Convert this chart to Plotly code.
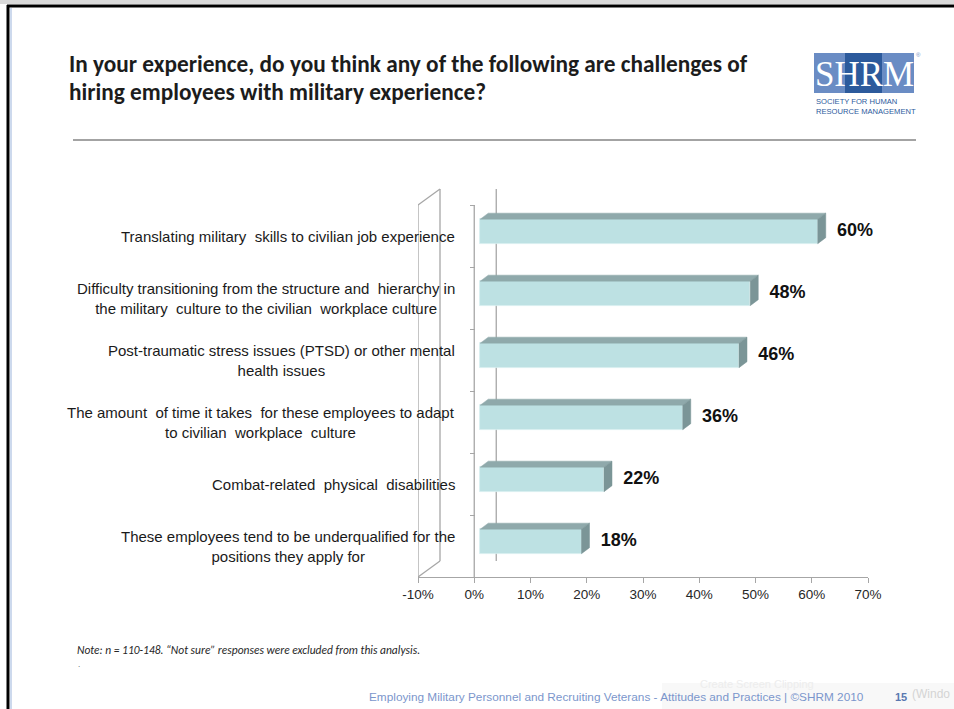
import plotly.graph_objects as go

# ---- data -------------------------------------------------------------
categories = [
    "Translating military  skills to civilian job experience",
    "Difficulty transitioning from the structure and  hierarchy in<br>the military  culture to the civilian  workplace culture",
    "Post-traumatic stress issues (PTSD) or other mental<br>health issues",
    "The amount  of time it takes  for these employees to adapt<br>to civilian  workplace  culture",
    "Combat-related  physical  disabilities",
    "These employees tend to be underqualified for the<br>positions they apply for",
]
values = [60, 48, 46, 36, 22, 18]
value_labels = ["60%", "48%", "46%", "36%", "22%", "18%"]
x_ticks = [-10, 0, 10, 20, 30, 40, 50, 60, 70]
x_tick_labels = ["-10%", "0%", "10%", "20%", "30%", "40%", "50%", "60%", "70%"]

title_lines = [
    "In your experience, do you think any of the following are challenges of",
    "hiring employees with military experience?",
]
note_text = "Note: n = 110-148. \u201cNot sure\u201d responses were excluded from this analysis."
footer_text = ("Employing Military Personnel and Recruiting Veterans - Attitudes and "
               "Practices | \u00a9SHRM 2010")
page_number = "15"

# ---- page geometry ----------------------------------------------------
W, H = 954, 709
L, R, T, B = 418, 86, 185, 132          # plot area: x 418..868, y 185..577
PW, PH = W - L - R, H - T - B
X_MIN, X_MAX = -10, 70
X_PER_PX = (X_MAX - X_MIN) / PW
CAT_PX = 62                              # pixel height of one category band
Y_TOP = -0.5 - (205 - T) / CAT_PX        # axis range so categories fill 205..577
Y_BOT = 5.5


def paper_x(px):
    return (px - L) / PW


def paper_y(py):
    return (H - B - py) / PH


# 3-D look: wall depth and bar depth (pixel offsets turned into data units)
wall_dx, wall_dy = 22 * X_PER_PX, -16 / CAT_PX
bar_shift = 6 * X_PER_PX
bar_dx, bar_dy = 8 * X_PER_PX, -6 / CAT_PX
bar_width = 24.5 / CAT_PX
bar_lift = -4.6 / CAT_PX

FRONT = "#BDE1E3"
TOP = "#8FA9AB"
SIDE = "#7B9597"
AXIS = "#A6A6A6"

ypos = list(range(len(categories)))
front_y = [y + bar_lift for y in ypos]

fig = go.Figure()

# front faces of the bars
fig.add_trace(go.Bar(
    orientation="h", x=values, y=front_y, base=bar_shift, width=bar_width,
    marker=dict(color=FRONT, line=dict(color="#D6EEEF", width=0.8)),
    hoverinfo="skip", showlegend=False,
))

# top and side faces
top_x, top_y, side_x, side_y = [], [], [], []
for v, yc in zip(values, front_y):
    y_hi = yc - bar_width / 2
    y_lo = yc + bar_width / 2
    x0, x1 = bar_shift, bar_shift + v
    top_x += [x0, x1, x1 + bar_dx, x0 + bar_dx, x0, None]
    top_y += [y_hi, y_hi, y_hi + bar_dy, y_hi + bar_dy, y_hi, None]
    side_x += [x1, x1 + bar_dx, x1 + bar_dx, x1, x1, None]
    side_y += [y_hi, y_hi + bar_dy, y_lo + bar_dy, y_lo, y_hi, None]

fig.add_trace(go.Scatter(x=top_x, y=top_y, mode="lines", fill="toself",
                         fillcolor=TOP, line=dict(color=TOP, width=0.5),
                         hoverinfo="skip", showlegend=False))
fig.add_trace(go.Scatter(x=side_x, y=side_y, mode="lines", fill="toself",
                         fillcolor=SIDE, line=dict(color=SIDE, width=0.5),
                         hoverinfo="skip", showlegend=False))

# value labels
fig.add_trace(go.Scatter(
    x=[v + bar_shift + 3.4 for v in values], y=front_y,
    mode="text", text=value_labels, textposition="middle right",
    textfont=dict(family="Liberation Sans, Arial, sans-serif", size=18,
                  color="#111111", weight="bold"),
    hoverinfo="skip", showlegend=False, cliponaxis=False,
))

shapes = []
line_style = dict(color=AXIS, width=1.3)

# category axis at 0 %
shapes.append(dict(type="line", xref="x", yref="y", x0=0, x1=0,
                   y0=-0.5, y1=5.5, line=line_style, layer="below"))
# 0 % line on the back wall
shapes.append(dict(type="line", xref="x", yref="y", x0=wall_dx, x1=wall_dx,
                   y0=-0.5 + wall_dy, y1=5.5 + wall_dy, line=line_style,
                   layer="below"))
# side wall at the axis minimum
wx0, wx1 = X_MIN, X_MIN + wall_dx
for (xa, ya, xb, yb) in [
    (wx0, -0.5, wx0, 5.5),
    (wx1, -0.5 + wall_dy, wx1, 5.5 + wall_dy),
    (wx0, -0.5, wx1, -0.5 + wall_dy),
    (wx0, 5.5, wx1, 5.5 + wall_dy),
]:
    shapes.append(dict(type="line", xref="x", yref="y", x0=xa, y0=ya,
                       x1=xb, y1=yb, line=line_style, layer="below"))

# slide frame
shapes += [
    dict(type="rect", xref="paper", yref="paper",
         x0=paper_x(0), x1=paper_x(W), y0=paper_y(0), y1=paper_y(4),
         fillcolor="#DADADA", line=dict(width=0), layer="below"),
    dict(type="line", xref="paper", yref="paper",
         x0=paper_x(7), x1=paper_x(W), y0=paper_y(6), y1=paper_y(6),
         line=dict(color="#000000", width=3)),
    dict(type="line", xref="paper", yref="paper",
         x0=paper_x(8), x1=paper_x(8), y0=paper_y(5), y1=paper_y(H),
         line=dict(color="#000000", width=3)),
    dict(type="line", xref="paper", yref="paper",
         x0=paper_x(11), x1=paper_x(11), y0=paper_y(8), y1=paper_y(H),
         line=dict(color="#9BB4DC", width=1)),
    # rule under the title
    dict(type="line", xref="paper", yref="paper",
         x0=paper_x(73), x1=paper_x(916), y0=paper_y(140), y1=paper_y(140),
         line=dict(color="#A3A3A3", width=2)),
    # logo blocks
    dict(type="rect", xref="paper", yref="paper",
         x0=paper_x(814), x1=paper_x(845), y0=paper_y(93), y1=paper_y(53),
         fillcolor="#6A8CC4", line=dict(width=0)),
    dict(type="rect", xref="paper", yref="paper",
         x0=paper_x(845), x1=paper_x(882), y0=paper_y(93), y1=paper_y(53),
         fillcolor="#2C5A9C", line=dict(width=0)),
    dict(type="rect", xref="paper", yref="paper",
         x0=paper_x(882), x1=paper_x(914), y0=paper_y(93), y1=paper_y(53),
         fillcolor="#6A8CC4", line=dict(width=0)),
    # faint tooltip box in the corner
    dict(type="rect", xref="paper", yref="paper",
         x0=paper_x(662), x1=paper_x(W), y0=paper_y(H), y1=paper_y(683),
         fillcolor="#F8F8F8", line=dict(width=0), layer="below"),
]

annotations = []
SANS = "Liberation Sans, Arial, sans-serif"
NARROW = "Carlito, Liberation Sans Narrow, Liberation Sans, sans-serif"

# category labels
for y, text in zip(ypos, categories):
    annotations.append(dict(
        xref="x", yref="y", x=-3.0, y=y, text=text, showarrow=False,
        xanchor="right", yanchor="middle", align="center",
        font=dict(family=SANS, size=15, color="#1A1A1A"),
    ))

# title
for line, py in zip(title_lines, [64, 92]):
    annotations.append(dict(
        xref="paper", yref="paper", x=paper_x(67), y=paper_y(py), text=line,
        showarrow=False, xanchor="left", yanchor="middle",
        font=dict(family=NARROW, size=23.3, color="#1C1C1C", weight="bold"),
    ))

# logo lettering
annotations.append(dict(
    xref="paper", yref="paper", x=paper_x(864), y=paper_y(74), text="SHRM",
    showarrow=False, xanchor="center", yanchor="middle",
    font=dict(family="Liberation Serif, serif", size=35, color="#FFFFFF"),
))
annotations.append(dict(
    xref="paper", yref="paper", x=paper_x(918), y=paper_y(55), text="\u00ae",
    showarrow=False, xanchor="center", yanchor="middle",
    font=dict(family=SANS, size=6, color="#6A8CC4"),
))
for line, py in [("SOCIETY FOR HUMAN", 102), ("RESOURCE MANAGEMENT", 111)]:
    annotations.append(dict(
        xref="paper", yref="paper", x=paper_x(814), y=paper_y(py), text=line,
        showarrow=False, xanchor="left", yanchor="middle",
        font=dict(family=SANS, size=7.6, color="#2C5A9C"),
    ))

# note and footer
annotations += [
    dict(xref="paper", yref="paper", x=paper_x(75), y=paper_y(650),
         text="<i>" + note_text + "</i>", showarrow=False,
         xanchor="left", yanchor="middle",
         font=dict(family=NARROW, size=11.5, color="#262626")),
    dict(xref="paper", yref="paper", x=paper_x(76), y=paper_y(664),
         text=".", showarrow=False, xanchor="left", yanchor="middle",
         font=dict(family=SANS, size=8, color="#404040")),
    dict(xref="paper", yref="paper", x=paper_x(757), y=paper_y(684),
         text="Create Screen Clipping", showarrow=False,
         xanchor="center", yanchor="middle",
         font=dict(family=SANS, size=11, color="#EDEDED")),
    dict(xref="paper", yref="paper", x=paper_x(367), y=paper_y(697),
         text=footer_text, showarrow=False, xanchor="left", yanchor="middle",
         font=dict(family=SANS, size=11.8, color="#7B96CC")),
    dict(xref="paper", yref="paper", x=paper_x(893), y=paper_y(697),
         text="<b>" + page_number + "</b>", showarrow=False,
         xanchor="left", yanchor="middle",
         font=dict(family=SANS, size=11, color="#5A78B0")),
    dict(xref="paper", yref="paper", x=paper_x(910), y=paper_y(694),
         text="(Windo", showarrow=False, xanchor="left", yanchor="middle",
         font=dict(family=SANS, size=12, color="#D4D4D4")),
]

fig.update_layout(
    width=W, height=H,
    margin=dict(l=L, r=R, t=T, b=B, pad=0),
    paper_bgcolor="#FFFFFF", plot_bgcolor="rgba(0,0,0,0)",
    shapes=shapes, annotations=annotations,
    showlegend=False,
    bargap=0,
    xaxis=dict(
        range=[X_MIN, X_MAX], tickvals=x_ticks, ticktext=x_tick_labels,
        showgrid=False, zeroline=False,
        showline=True, linecolor=AXIS, linewidth=1.3,
        ticks="outside", ticklen=5, tickcolor=AXIS, tickwidth=1.3,
        tickfont=dict(family=SANS, size=13.5, color="#262626"),
        fixedrange=True,
    ),
    yaxis=dict(
        range=[Y_BOT, Y_TOP], anchor="free", position=paper_x(475),
        tickvals=[i - 0.5 for i in range(len(categories) + 1)],
        showticklabels=False, showgrid=False, zeroline=False, showline=False,
        ticks="outside", ticklen=5, tickcolor=AXIS, tickwidth=1.3,
        fixedrange=True,
    ),
)

fig.write_html("out.html", config={"displayModeBar": False})
